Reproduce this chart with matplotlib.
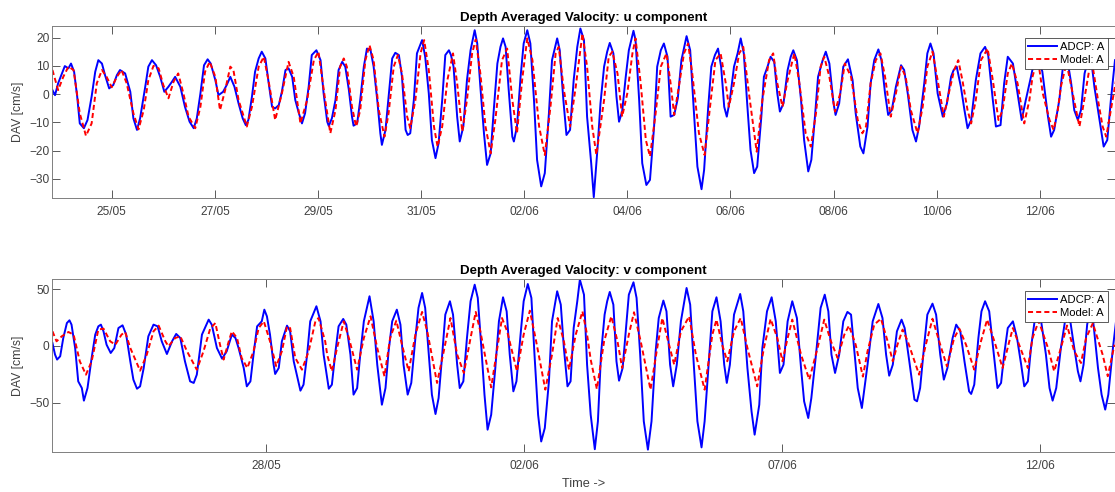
import numpy as np
import matplotlib
matplotlib.use("Agg")
import matplotlib.pyplot as plt
import matplotlib.dates as mdates
from datetime import datetime

# ==========================================
# data (time in days after 25/05 00:00, speed in cm/s)
# ==========================================
u_adcp = [(-1.15,1.4),(-1.10,-0.4),(-1.04,3.8),(-0.91,9.9),(-0.84,9.1),(-0.79,10.8),(-0.73,7.9),(-0.67,-0.9),(-0.62,-10.4),(-0.54,-12.1),(-0.47,-9.2),(-0.39,-0.9),(-0.32,7.9),(-0.26,12.0),(-0.19,10.8),(-0.13,6.7),(-0.05,2.0),(0.03,3.2),(0.10,6.7),(0.16,8.5),(0.26,7.3),(0.36,0.8),(0.42,-8.6),(0.49,-12.7),(0.55,-8.6),(0.65,2.6),(0.71,9.7),(0.78,12.0),(0.86,10.2),(0.94,6.1),(1.02,0.8),(1.10,2.6),(1.17,4.4),(1.23,6.1),(1.33,2.6),(1.42,-4.5),(1.51,-9.8),(1.59,-12.1),(1.65,-8.6),(1.72,0.2),(1.79,10.2),(1.86,12.3),(1.92,10.8),(2.01,4.9),(2.07,-0.4),(2.16,0.8),(2.23,3.2),(2.30,6.1),(2.38,2.6),(2.46,-3.3),(2.54,-8.6),(2.60,-11.0),(2.65,-9.2),(2.72,-0.9),(2.78,7.9),(2.85,12.6),(2.91,15.0),(2.98,12.6),(3.04,4.4),(3.11,-4.5),(3.17,-5.1),(3.24,-3.9),(3.30,0.8),(3.37,8.5),(3.43,9.1),(3.50,6.1),(3.56,-2.1),(3.63,-6.8),(3.69,-10.4),(3.75,-6.8),(3.82,2.6),(3.88,13.8),(3.97,15.5),(4.05,12.0),(4.11,0.2),(4.18,-9.8),(4.21,-11.3),(4.27,-8.6),(4.34,-2.1),(4.40,8.5),(4.47,11.4),(4.53,9.7),(4.60,1.4),(4.66,-8.0),(4.69,-11.2),(4.76,-10.4),(4.82,-2.1),(4.89,9.7),(4.95,16.1),(5.02,15.5),(5.08,9.7),(5.15,-2.1),(5.21,-13.9),(5.24,-18.0),(5.31,-12.7),(5.37,-0.9),(5.44,12.6),(5.50,14.6),(5.57,13.8),(5.63,6.1),(5.70,-12.7),(5.74,-14.5),(5.79,-13.9),(5.86,-2.1),(5.92,14.4),(6.02,19.1),(6.08,13.2),(6.15,0.2),(6.21,-16.3),(6.28,-22.7),(6.34,-17.4),(6.41,-2.1),(6.47,13.8),(6.54,15.5),(6.58,13.8),(6.63,9.7),(6.70,-8.0),(6.75,-16.8),(6.82,-11.5),(6.89,4.9),(6.96,15.5),(7.04,22.6),(7.09,17.9),(7.15,2.6),(7.22,-13.9),(7.28,-25.1),(7.35,-21.0),(7.41,-5.7),(7.48,10.8),(7.54,16.7),(7.59,19.7),(7.64,16.7),(7.70,1.4),(7.77,-15.1),(7.80,-16.8),(7.86,-11.5),(7.93,6.1),(7.99,17.9),(8.06,22.6),(8.12,17.9),(8.19,-2.1),(8.25,-23.3),(8.33,-32.7),(8.40,-28.0),(8.48,-6.8),(8.54,12.0),(8.64,19.7),(8.69,15.5),(8.76,-2.1),(8.82,-14.5),(8.89,-12.7),(8.96,4.9),(9.03,16.7),(9.09,23.2),(9.16,19.1),(9.22,-8.0),(9.30,-24.5),(9.35,-36.5),(9.42,-19.8),(9.48,-3.3),(9.55,9.7),(9.61,15.0),(9.66,18.1),(9.73,14.4),(9.79,-0.9),(9.84,-9.8),(9.90,-6.2),(9.97,6.1),(10.03,15.5),(10.12,22.4),(10.16,19.1),(10.23,-2.1),(10.29,-24.5),(10.37,-32.2),(10.44,-30.4),(10.52,-11.5),(10.58,9.7),(10.65,15.5),(10.71,17.9),(10.78,13.2),(10.84,-8.0),(10.91,-7.4),(10.98,-1.5),(11.05,12.0),(11.15,20.5),(11.22,15.5),(11.29,-5.7),(11.36,-25.7),(11.44,-33.7),(11.49,-26.9),(11.57,-4.5),(11.63,9.7),(11.70,13.8),(11.76,16.1),(11.82,9.7),(11.88,-4.5),(11.93,-8.0),(11.99,-2.1),(12.07,9.7),(12.14,14.4),(12.20,19.7),(12.26,14.4),(12.33,-4.5),(12.39,-19.8),(12.46,-28.0),(12.52,-25.7),(12.60,-8.0),(12.65,6.1),(12.72,9.7),(12.78,13.2),(12.85,11.4),(12.91,0.2),(12.96,-6.2),(13.03,-3.3),(13.11,8.5),(13.17,13.2),(13.22,15.5),(13.29,12.0),(13.37,-2.1),(13.43,-16.3),(13.51,-27.4),(13.57,-23.3),(13.64,-8.0),(13.70,6.1),(13.79,12.0),(13.85,15.0),(13.92,10.8),(14.00,-3.3),(14.04,-7.4),(14.11,-3.3),(14.19,9.7),(14.28,12.3),(14.37,4.9),(14.43,-6.8),(14.52,-18.6),(14.58,-21.0),(14.66,-11.5),(14.72,3.8),(14.79,12.0),(14.87,15.8),(14.93,12.0),(15.00,0.2),(15.06,-7.4),(15.13,-5.7),(15.21,2.6),(15.31,10.2),(15.37,8.5),(15.44,0.2),(15.53,-12.7),(15.60,-16.8),(15.66,-11.5),(15.76,3.8),(15.82,14.4),(15.88,17.9),(15.94,14.4),(16.02,0.2),(16.12,-8.0),(16.20,-3.3),(16.28,6.1),(16.33,8.5),(16.39,9.7),(16.47,2.6),(16.54,-5.7),(16.60,-12.1),(16.67,-9.2),(16.76,4.9),(16.85,14.4),(16.94,16.7),(17.00,13.8),(17.09,-2.1),(17.15,-11.5),(17.24,-11.0),(17.31,3.8),(17.38,13.2),(17.48,10.8),(17.57,0.2),(17.65,-9.2),(17.73,-2.1),(17.83,6.1),(17.93,15.0),(18.05,8.0),(18.16,-8.0),(18.22,-15.1),(18.28,-12.7),(18.38,-2.1),(18.45,9.7),(18.52,14.0),(18.61,3.8),(18.67,-5.7),(18.74,-9.2),(18.80,-5.7),(18.87,7.3),(18.98,15.0),(19.06,2.6),(19.16,-9.2),(19.24,-18.6),(19.31,-16.3),(19.38,-2.1),(19.46,12.0)]

u_model = [(-1.15,8.5),(-1.04,1.4),(-0.94,6.1),(-0.84,9.7),(-0.74,8.5),(-0.62,-6.8),(-0.50,-14.8),(-0.39,-10.4),(-0.29,3.8),(-0.19,8.5),(-0.10,6.1),(0.00,2.4),(0.10,6.1),(0.19,8.5),(0.29,3.8),(0.42,-6.8),(0.52,-12.5),(0.62,-5.7),(0.71,4.9),(0.81,10.0),(0.91,9.1),(1.00,3.2),(1.10,-1.5),(1.20,4.4),(1.29,7.3),(1.39,0.2),(1.49,-8.0),(1.62,-12.1),(1.72,-4.5),(1.81,7.9),(1.90,11.4),(2.01,6.1),(2.10,-5.7),(2.20,1.4),(2.30,9.7),(2.36,8.5),(2.46,-2.1),(2.62,-11.5),(2.72,-4.5),(2.85,9.7),(2.95,13.2),(3.04,4.9),(3.17,-9.2),(3.30,0.2),(3.43,11.4),(3.53,6.1),(3.66,-10.4),(3.79,-2.1),(3.92,12.0),(4.01,15.0),(4.14,-2.1),(4.24,-13.9),(4.34,-5.7),(4.43,9.7),(4.50,12.6),(4.56,9.7),(4.66,-4.5),(4.74,-11.5),(4.82,-5.7),(4.92,12.0),(5.00,17.3),(5.08,12.0),(5.18,-5.7),(5.29,-15.1),(5.37,-6.8),(5.47,9.7),(5.55,13.8),(5.63,7.3),(5.73,-8.0),(5.79,-12.1),(5.89,-2.1),(5.99,14.4),(6.06,19.1),(6.15,8.5),(6.25,-11.5),(6.32,-18.6),(6.41,-11.5),(6.51,4.9),(6.62,14.4),(6.70,3.8),(6.80,-13.3),(6.89,-2.1),(6.99,14.4),(7.06,19.3),(7.15,7.3),(7.25,-11.5),(7.35,-21.0),(7.44,-9.2),(7.57,12.0),(7.67,16.1),(7.77,-2.1),(7.86,-13.9),(7.96,4.9),(8.06,19.7),(8.16,12.0),(8.29,-11.5),(8.40,-21.6),(8.51,-4.5),(8.61,14.4),(8.67,16.7),(8.77,1.4),(8.89,-11.5),(9.00,2.6),(9.13,21.4),(9.22,9.7),(9.32,-11.5),(9.40,-21.5),(9.55,-2.1),(9.64,13.2),(9.71,15.0),(9.81,7.3),(9.90,-8.0),(10.00,0.2),(10.10,14.4),(10.16,19.7),(10.26,3.8),(10.36,-16.3),(10.44,-22.1),(10.55,-6.8),(10.65,9.7),(10.76,14.4),(10.84,3.8),(10.91,-7.4),(11.00,2.6),(11.10,14.4),(11.18,17.9),(11.26,7.3),(11.39,-13.9),(11.50,-21.6),(11.62,-2.1),(11.71,12.0),(11.81,14.4),(11.91,3.8),(11.97,-4.5),(12.07,3.8),(12.17,14.4),(12.25,16.7),(12.36,0.2),(12.51,-20.4),(12.62,-2.1),(12.75,12.0),(12.83,14.4),(12.91,3.8),(13.01,-4.5),(13.11,4.9),(13.24,14.4),(13.33,4.9),(13.46,-13.9),(13.56,-18.6),(13.66,-6.8),(13.75,9.7),(13.82,13.2),(13.92,6.1),(14.03,-6.2),(14.13,0.2),(14.22,10.8),(14.34,6.1),(14.47,-9.2),(14.56,-13.9),(14.63,-11.5),(14.72,3.8),(14.82,12.0),(14.91,14.4),(15.00,6.1),(15.11,-8.0),(15.21,0.2),(15.31,9.7),(15.40,6.1),(15.50,-5.7),(15.63,-13.9),(15.73,-4.5),(15.82,9.7),(15.92,15.0),(16.02,4.9),(16.14,-8.0),(16.25,1.4),(16.34,8.5),(16.42,12.0),(16.50,4.9),(16.60,-5.7),(16.67,-10.4),(16.76,-2.1),(16.86,12.0),(16.99,16.1),(17.09,4.9),(17.20,-9.2),(17.28,-5.7),(17.38,7.3),(17.46,10.8),(17.57,3.8),(17.70,-10.4),(17.80,-2.1),(17.86,6.1),(17.96,13.0),(18.06,0.2),(18.19,-9.2),(18.27,-12.7),(18.35,-5.7),(18.41,2.6),(18.52,11.0),(18.64,0.2),(18.77,-11.5),(18.83,-5.7),(19.00,13.0),(19.13,-2.1),(19.22,-11.5),(19.29,-15.1),(19.38,-5.7),(19.48,4.9)]

v_adcp = [(-1.15,2.6),(-1.10,-7.6),(-1.06,-12.0),(-1.00,-9.1),(-0.94,7.0),(-0.87,20.2),(-0.82,22.6),(-0.78,18.8),(-0.71,-1.8),(-0.65,-31.2),(-0.58,-37.1),(-0.54,-48.2),(-0.47,-37.1),(-0.39,-10.6),(-0.32,10.0),(-0.26,17.3),(-0.21,18.8),(-0.16,12.9),(-0.10,1.1),(-0.02,-6.2),(0.05,-1.8),(0.13,15.8),(0.21,18.2),(0.28,10.0),(0.36,-13.5),(0.42,-29.7),(0.49,-37.7),(0.55,-35.6),(0.62,-19.4),(0.71,8.5),(0.81,18.8),(0.89,17.3),(0.97,4.1),(1.07,-7.1),(1.17,4.1),(1.25,10.6),(1.33,7.0),(1.42,-13.5),(1.52,-31.2),(1.59,-32.6),(1.65,-25.3),(1.75,10.0),(1.88,23.2),(1.94,18.8),(2.04,-1.8),(2.14,-11.2),(2.23,-4.7),(2.33,10.0),(2.40,7.0),(2.46,-1.8),(2.56,-19.4),(2.62,-35.6),(2.69,-31.2),(2.75,-7.6),(2.82,17.3),(2.91,21.7),(2.96,32.0),(3.01,26.1),(3.07,10.0),(3.14,-16.5),(3.17,-24.7),(3.24,-19.4),(3.30,4.1),(3.40,17.9),(3.46,12.9),(3.53,-13.5),(3.59,-25.3),(3.66,-39.4),(3.72,-34.1),(3.79,-7.6),(3.85,21.7),(3.97,35.0),(4.05,21.7),(4.11,-7.6),(4.21,-37.7),(4.27,-34.1),(4.34,-4.7),(4.40,17.3),(4.49,23.8),(4.55,18.8),(4.63,-7.6),(4.69,-42.9),(4.76,-37.1),(4.82,-7.6),(4.89,21.7),(5.00,43.8),(5.08,21.7),(5.15,-16.5),(5.24,-51.8),(5.31,-37.1),(5.37,-4.7),(5.44,21.7),(5.53,32.0),(5.60,18.8),(5.66,-16.5),(5.74,-42.9),(5.81,-32.6),(5.89,7.0),(5.95,33.5),(6.02,46.7),(6.08,33.5),(6.15,-7.6),(6.21,-42.9),(6.28,-60.0),(6.34,-45.9),(6.41,-7.6),(6.47,27.6),(6.56,39.4),(6.62,27.6),(6.70,-16.5),(6.75,-37.1),(6.82,-31.2),(6.89,7.0),(6.96,39.4),(7.04,54.0),(7.10,42.3),(7.17,-1.8),(7.23,-42.9),(7.29,-73.8),(7.36,-60.6),(7.44,-19.4),(7.51,21.7),(7.59,42.9),(7.66,30.5),(7.72,-7.6),(7.79,-40.0),(7.85,-31.2),(7.93,10.0),(7.99,39.4),(8.07,54.6),(8.14,42.3),(8.20,-7.6),(8.27,-60.6),(8.33,-84.2),(8.40,-72.3),(8.48,-31.2),(8.54,21.7),(8.64,48.2),(8.71,36.4),(8.77,-1.8),(8.84,-35.6),(8.90,-31.2),(8.96,15.8),(9.03,39.4),(9.08,58.5),(9.16,45.2),(9.22,-16.5),(9.29,-60.6),(9.37,-91.0),(9.43,-66.4),(9.49,-7.6),(9.56,27.6),(9.61,39.4),(9.66,47.6),(9.73,36.4),(9.79,-13.5),(9.84,-30.6),(9.91,-19.4),(9.97,12.9),(10.03,45.2),(10.12,56.1),(10.18,42.3),(10.25,-7.6),(10.32,-66.4),(10.40,-91.4),(10.47,-66.4),(10.55,-4.7),(10.61,24.6),(10.70,40.0),(10.76,30.5),(10.83,-16.5),(10.89,-35.6),(10.96,-16.5),(11.04,21.7),(11.15,51.1),(11.22,36.4),(11.29,-16.5),(11.36,-66.4),(11.44,-89.4),(11.50,-66.4),(11.59,-7.6),(11.65,30.5),(11.73,42.9),(11.81,21.7),(11.88,-16.5),(11.93,-32.6),(11.99,-16.5),(12.07,27.6),(12.19,45.8),(12.25,30.5),(12.33,-19.4),(12.41,-57.6),(12.47,-78.2),(12.56,-51.8),(12.62,-1.8),(12.71,30.5),(12.80,42.9),(12.88,21.7),(12.96,-23.8),(13.03,-16.5),(13.11,21.7),(13.20,39.4),(13.29,24.6),(13.37,-19.4),(13.43,-48.8),(13.51,-63.5),(13.57,-45.9),(13.66,-7.6),(13.75,33.5),(13.83,45.2),(13.90,30.5),(13.96,-7.6),(14.03,-23.8),(14.11,-7.6),(14.19,21.7),(14.27,30.0),(14.34,27.6),(14.41,-7.6),(14.47,-37.1),(14.55,-54.7),(14.66,-16.5),(14.76,21.7),(14.87,37.0),(14.95,24.6),(15.02,-7.6),(15.08,-26.2),(15.15,-16.5),(15.23,12.9),(15.32,23.2),(15.38,15.8),(15.47,-13.5),(15.57,-47.3),(15.62,-48.8),(15.68,-37.1),(15.76,1.1),(15.82,27.6),(15.92,37.3),(15.99,27.6),(16.07,-7.6),(16.14,-29.7),(16.21,-19.4),(16.31,7.0),(16.38,18.8),(16.46,12.9),(16.54,-13.5),(16.63,-40.0),(16.67,-42.3),(16.73,-34.1),(16.81,7.0),(16.87,30.5),(16.94,39.4),(17.02,30.5),(17.11,-7.6),(17.18,-37.1),(17.25,-32.6),(17.31,-7.6),(17.38,15.8),(17.48,21.7),(17.56,7.0),(17.64,-16.5),(17.70,-35.6),(17.77,-31.2),(17.83,-1.8),(17.90,21.7),(17.97,40.0),(18.12,-7.6),(18.19,-37.1),(18.25,-48.2),(18.32,-37.1),(18.41,-1.8),(18.49,21.7),(18.55,35.0),(18.67,-1.8),(18.74,-22.3),(18.79,-31.2),(18.85,-16.5),(18.92,18.8),(19.00,38.0),(19.13,-19.4),(19.20,-42.9),(19.27,-56.1),(19.33,-42.9),(19.42,-1.8),(19.48,21.7)]

v_model = [(-1.15,12.9),(-1.07,4.1),(-0.97,8.5),(-0.84,12.3),(-0.74,10.0),(-0.62,-13.5),(-0.50,-25.3),(-0.39,-13.5),(-0.26,14.4),(-0.16,15.3),(-0.03,4.1),(0.07,1.1),(0.19,10.0),(0.26,12.3),(0.36,-1.8),(0.55,-21.8),(0.68,-7.6),(0.81,12.9),(0.91,17.9),(1.04,4.1),(1.10,-0.3),(1.23,7.0),(1.33,8.5),(1.46,-4.7),(1.65,-20.9),(1.78,-4.7),(1.91,15.3),(2.01,20.2),(2.10,1.1),(2.17,-12.0),(2.27,4.1),(2.33,12.9),(2.43,7.0),(2.52,-10.6),(2.63,-19.4),(2.75,-4.7),(2.85,15.8),(2.95,21.7),(3.07,4.1),(3.19,-17.9),(3.30,-4.7),(3.40,17.3),(3.46,15.8),(3.56,-10.6),(3.69,-20.9),(3.82,-4.7),(3.95,21.7),(4.01,24.6),(4.14,4.1),(4.18,-8.0),(4.27,-22.3),(4.37,-1.8),(4.50,21.7),(4.60,7.0),(4.76,-20.9),(4.89,7.0),(5.02,26.1),(5.15,-1.8),(5.29,-26.7),(5.40,7.0),(5.52,22.3),(5.63,1.1),(5.76,-22.3),(5.89,10.0),(6.02,30.0),(6.12,12.9),(6.31,-32.6),(6.44,-4.7),(6.57,24.6),(6.70,-7.6),(6.83,-23.8),(6.96,7.0),(7.06,30.0),(7.15,12.9),(7.36,-36.5),(7.48,-1.8),(7.57,24.6),(7.67,12.9),(7.86,-22.3),(7.99,10.0),(8.11,31.1),(8.22,7.0),(8.41,-38.5),(8.54,-7.6),(8.65,24.6),(8.77,4.1),(8.87,-20.9),(9.00,10.0),(9.13,30.5),(9.22,10.0),(9.29,-12.0),(9.41,-38.0),(9.55,4.1),(9.69,26.1),(9.81,4.1),(9.90,-19.4),(10.03,10.0),(10.13,29.7),(10.26,4.1),(10.45,-38.5),(10.58,-1.8),(10.68,24.6),(10.81,1.1),(10.91,-16.5),(11.04,12.9),(11.20,26.1),(11.33,-7.6),(11.50,-38.5),(11.65,10.0),(11.73,23.2),(11.84,1.1),(11.94,-13.5),(12.07,12.9),(12.20,24.6),(12.33,-1.8),(12.52,-35.6),(12.65,-1.8),(12.78,23.8),(12.91,7.0),(13.01,-13.5),(13.11,7.0),(13.20,23.2),(13.37,-7.6),(13.53,-29.7),(13.69,-1.8),(13.82,23.2),(13.95,4.1),(14.08,-10.6),(14.21,10.0),(14.30,17.9),(14.43,1.1),(14.57,-27.0),(14.66,-4.7),(14.79,18.8),(14.92,24.0),(15.05,4.1),(15.15,-13.5),(15.24,1.1),(15.34,14.4),(15.44,4.1),(15.66,-25.3),(15.79,1.1),(15.92,24.0),(16.05,4.1),(16.20,-17.9),(16.34,7.0),(16.44,15.3),(16.57,1.1),(16.73,-20.9),(16.86,4.1),(16.98,23.2),(17.12,4.1),(17.28,-19.4),(17.41,4.1),(17.48,15.8),(17.60,1.1),(17.77,-19.4),(17.86,7.0),(17.98,22.0),(18.16,-1.8),(18.28,-22.3),(18.41,-1.8),(18.53,18.0),(18.67,-4.7),(18.80,-15.0),(18.90,7.0),(19.03,20.0),(19.22,-7.6),(19.32,-26.7),(19.45,1.1)]

u_ticks = [0, 2, 4, 6, 8, 10, 12, 14, 16, 18]   # 25/05 ... 12/06
v_ticks = [3, 8, 13, 18]                         # 28/05 ... 12/06
u_yticks = [-30, -20, -10, 0, 10, 20]
v_yticks = [-50, 0, 50]

# ==========================================
# plot
# ==========================================
plt.rcParams['font.family'] = ['Liberation Sans', 'DejaVu Sans']
day0 = mdates.date2num(datetime(2016, 5, 25))
GREY = '#404040'


def unzip(pairs):
    t, v = zip(*pairs)
    return day0 + np.array(t), np.array(v)


def draw(ax, obs, mod, xticks, yticks, ylim, title):
    t, v = unzip(obs)
    ax.plot(t, v, color='b', lw=1.4, label='ADCP: A')
    t, v = unzip(mod)
    ax.plot(t, v, color='r', lw=1.4, ls=(0, (2.6, 1.6)), label='Model: A')

    ax.set_xlim(day0 - 1.153, day0 + 19.46)
    ax.set_ylim(*ylim)
    ax.set_xticks([day0 + d for d in xticks])
    ax.xaxis.set_major_formatter(mdates.DateFormatter('%d/%m'))
    ax.set_yticks(yticks)
    ax.tick_params(direction='in', length=6, width=0.6, top=True, right=True,
                   colors=GREY, labelsize=8.6)
    ax.tick_params(axis='x', pad=6)
    ax.tick_params(axis='y', pad=2)
    for sp in ax.spines.values():
        sp.set_color('#7f7f7f')
        sp.set_linewidth(0.7)

    ax.set_title(title, fontsize=9.6, fontweight='bold', pad=3.5)
    ax.set_ylabel('DAV [cm/s]', fontsize=8.8, color=GREY)
    ax.yaxis.set_label_coords(-0.027, 0.5)

    leg = ax.legend(loc='upper right', bbox_to_anchor=(0.9937, 0.932),
                    borderaxespad=0, fancybox=False, framealpha=1,
                    edgecolor=GREY, fontsize=8.1, handlelength=2.5,
                    handletextpad=0.3, labelspacing=0.3, borderpad=0.35)
    leg.get_frame().set_linewidth(0.6)


fig = plt.figure(figsize=(11.15, 4.92), dpi=100)
ax_u = fig.add_axes([0.0469, 0.5976, 0.9531, 0.3496])
ax_v = fig.add_axes([0.0469, 0.0819, 0.9531, 0.3510])

draw(ax_u, u_adcp, u_model, u_ticks, u_yticks, (-36.8, 24.1),
     'Depth Averaged Valocity: u component')
draw(ax_v, v_adcp, v_model, v_ticks, v_yticks, (-93.2, 59.0),
     'Depth Averaged Valocity: v component')

ax_v.set_xlabel('Time ->', fontsize=9.2, color=GREY)
ax_v.xaxis.set_label_coords(0.5, -0.15)

fig.savefig('out.png', dpi=100)
